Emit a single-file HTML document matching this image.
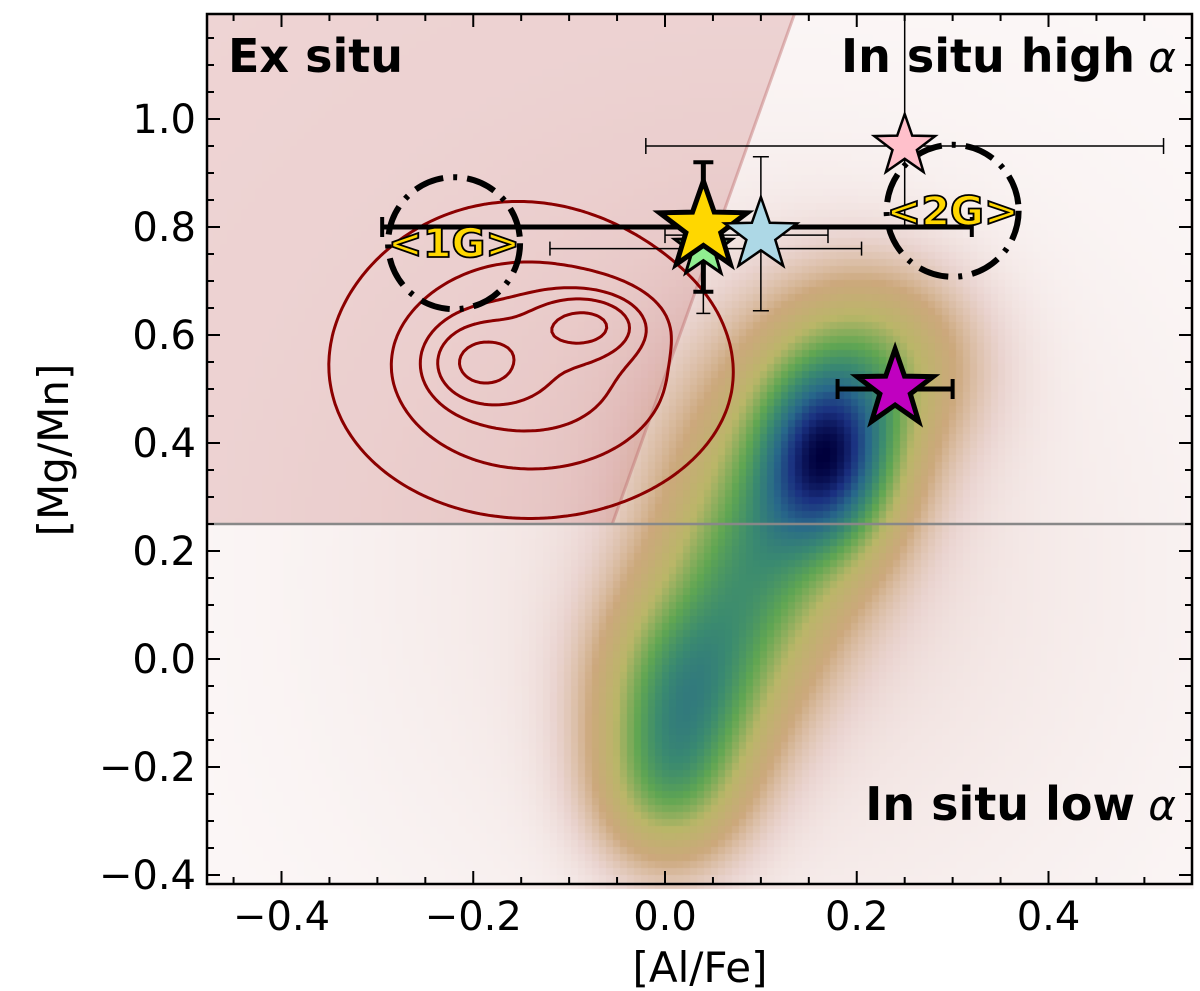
<!DOCTYPE html>
<html><head><meta charset="utf-8">
<style>
html,body{margin:0;padding:0;background:#fff;}
#wrap{position:relative;width:1200px;height:991px;overflow:hidden;font-family:"Liberation Sans",sans-serif;}
canvas,svg{position:absolute;left:0;top:0;}
</style></head>
<body>
<div id="wrap">
<canvas id="heat" width="1200" height="991"></canvas>
<svg id="svg" width="1200" height="991"><defs><clipPath id="clip"><rect x="207" y="14" width="985" height="870"/></clipPath></defs></svg>
</div>
<script>
// ---- data ----
const xTicks=[-0.4,-0.2,0.0,0.2,0.4];
const xTickLabels=["\u22120.4","\u22120.2","0.0","0.2","0.4"];
const yTicks=[-0.4,-0.2,0.0,0.2,0.4,0.6,0.8,1.0];
const yTickLabels=["\u22120.4","\u22120.2","0.0","0.2","0.4","0.6","0.8","1.0"];
const starNames=["gold","green","lightblue","pink","magenta"];
const starX=[0.04,0.04,0.10,0.25,0.24];
const starY=[0.80,0.76,0.785,0.95,0.50];
const starXLo=[-0.295,-0.12,0.0,-0.02,0.18];
const starXHi=[0.32,0.205,0.17,0.52,0.30];
const starYLo=[0.68,0.64,0.645,0.80,0.50];
const starYHi=[0.92,0.92,0.93,1.25,0.50];
const groupLabels=["<1G>","<2G>"];
const groupX=[-0.22,0.30];
const groupY=[0.77,0.83];
const exSituTop=[-0.055,0.25,0.135,1.194];
const hLineY=0.25;
const heatX=[0.17,0.02,0.09,0.22,0.0,0.12,0.1];
const heatY=[0.37,-0.07,0.15,0.55,-0.25,0.35,0.15];
const heatSX=[0.05,0.06,0.06,0.07,0.05,0.09,0.28];
const heatSY=[0.12,0.14,0.15,0.12,0.10,0.2,0.5];
const heatW=[1.0,0.78,0.5,0.45,0.4,0.3,0.08];
const exX=[-0.195,-0.08,-0.13,-0.16];
const exY=[0.55,0.62,0.52,0.6];
const exSX=[0.035,0.04,0.115,0.115];
const exSY=[0.05,0.04,0.14,0.19];
const exW=[0.6,0.7,0.6,0.3];
const contourLevels=[0.12,0.3,0.48,0.65,0.88];

// ---- axes ----
const L=207,R=1192,T=14,B=884;
const X0=665,XS=958.75,Y0=659,YS=540;
const xp=v=>X0+v*XS, yp=v=>Y0-v*YS;
const xv=p=>(p-X0)/XS, yv=p=>(Y0-p)/YS;
const NS="http://www.w3.org/2000/svg";
const svg=document.getElementById('svg');
function mk(tag,attrs,parent){const e=document.createElementNS(NS,tag);for(const k in attrs)e.setAttribute(k,attrs[k]);(parent||svg).appendChild(e);return e;}

// ---- heatmap ----
function dens(xs,ys,sx,sy,w,x,y){let s=0;for(let i=0;i<xs.length;i++){const dx=(x-xs[i])/sx[i],dy=(y-ys[i])/sy[i];s+=w[i]*Math.exp(-0.5*(dx*dx+dy*dy));}return s;}
const stops=[[0,[252,248,248]],[0.08,[234,212,208]],[0.2,[204,168,124]],[0.35,[186,182,104]],[0.5,[96,166,82]],[0.62,[58,138,112]],[0.75,[40,104,138]],[0.88,[26,48,128]],[1,[0,0,60]]];
function cmap(v){v=Math.max(0,Math.min(1,v));for(let i=1;i<stops.length;i++){if(v<=stops[i][0]){const a=stops[i-1],b=stops[i],t=(v-a[0])/(b[0]-a[0]);return a[1].map((c,j)=>Math.round(c+(b[1][j]-c)*t));}}return stops[stops.length-1][1];}
const ctx=document.getElementById('heat').getContext('2d');
let mx=0;const bs=7;
for(let px=L;px<R;px+=bs)for(let py=T;py<B;py+=bs)mx=Math.max(mx,dens(heatX,heatY,heatSX,heatSY,heatW,xv(px+bs/2),yv(py+bs/2)));
for(let px=L;px<R;px+=bs)for(let py=T;py<B;py+=bs){const v=dens(heatX,heatY,heatSX,heatSY,heatW,xv(px+bs/2),yv(py+bs/2))/mx;const c=cmap(v);ctx.fillStyle=`rgb(${c[0]},${c[1]},${c[2]})`;ctx.fillRect(px,py,bs,bs);}

// ---- ex situ region ----
const bx0=xp(exSituTop[0]),by0=yp(exSituTop[1]),bx1=xp(exSituTop[2]),by1=yp(exSituTop[3]);
const ex=mk('polygon',{points:`${L},${T} ${bx1},${T} ${bx0},${by0} ${L},${by0}`,fill:'rgba(200,120,120,0.28)'});

mk('line',{x1:bx1,y1:T,x2:bx0,y2:by0,stroke:'rgba(190,110,110,0.45)','stroke-width':3});

// ---- contours ----
const st=4,grid=[];
const cx0=260,cx1=800,cy0=100,cy1=560;
let emx=0;
for(let i=0;cx0+i*st<=cx1;i++){grid[i]=[];for(let j=0;cy0+j*st<=cy1;j++){const v=dens(exX,exY,exSX,exSY,exW,xv(cx0+i*st),yv(cy0+j*st));grid[i][j]=v;emx=Math.max(emx,v);}}
const cg=mk('g',{fill:'none',stroke:'#8b0000','stroke-width':3,'stroke-linecap':'round'});

contourLevels.forEach(lv=>{const th=lv*emx;let d='';
 for(let i=0;i<grid.length-1;i++)for(let j=0;j<grid[0].length-1;j++){
  const a=grid[i][j],b=grid[i+1][j],c=grid[i+1][j+1],e=grid[i][j+1];
  const x=cx0+i*st,y=cy0+j*st,pts=[];
  const f=(p,q)=>(th-p)/(q-p);
  if((a>th)!=(b>th))pts.push([x+st*f(a,b),y]);
  if((b>th)!=(c>th))pts.push([x+st,y+st*f(b,c)]);
  if((e>th)!=(c>th))pts.push([x+st*f(e,c),y+st]);
  if((a>th)!=(e>th))pts.push([x,y+st*f(a,e)]);
  for(let k=0;k+1<pts.length;k+=2)d+=`M${pts[k][0].toFixed(1)} ${pts[k][1].toFixed(1)}L${pts[k+1][0].toFixed(1)} ${pts[k+1][1].toFixed(1)}`;
 }
 const p=mk('path',{d},cg);
});

// ---- horizontal line ----
const hl=mk('line',{x1:L,x2:R,y1:yp(hLineY),y2:yp(hLineY),stroke:'#888','stroke-width':2.5});


// ---- group circles ----
groupLabels.forEach((lab,i)=>{
 const c=mk('circle',{cx:xp(groupX[i]),cy:yp(groupY[i]),r:66,fill:'none',stroke:'#000','stroke-width':6,'stroke-dasharray':'30 10 4 10'});
 
});

// ---- error bars & stars ----
const styles={gold:{fill:'#ffd700',r:46,lw:5,ew:5,cap:10},green:{fill:'#90ee90',r:30,lw:3,ew:1.5,cap:7},lightblue:{fill:'#add8e6',r:38,lw:2.5,ew:1.5,cap:8},pink:{fill:'#ffc0cb',r:32,lw:2.5,ew:1.5,cap:8},magenta:{fill:'#c000c0',r:40,lw:5,ew:5,cap:10}};
function starPath(cx,cy,R){const r=R*0.4;let d='';for(let k=0;k<10;k++){const ang=-Math.PI/2+k*Math.PI/5,rr=k%2?r:R;d+=(k?'L':'M')+(cx+rr*Math.cos(ang)).toFixed(1)+' '+(cy+rr*Math.sin(ang)).toFixed(1);}return d+'Z';}
const order=[3,1,0,2,4];
const clipG=mk('g',{'clip-path':'url(#clip)'});
order.forEach(i=>{const s=styles[starNames[i]];const g=mk('g',{},clipG);
 
 const X=xp(starX[i]),Y=yp(starY[i]);
 const cw=s.ew>2?4:1.5;
 mk('line',{x1:xp(starXLo[i]),x2:xp(starXHi[i]),y1:Y,y2:Y,stroke:'#000','stroke-width':s.ew},g);
 mk('line',{x1:xp(starXLo[i]),x2:xp(starXLo[i]),y1:Y-s.cap,y2:Y+s.cap,stroke:'#000','stroke-width':cw},g);
 mk('line',{x1:xp(starXHi[i]),x2:xp(starXHi[i]),y1:Y-s.cap,y2:Y+s.cap,stroke:'#000','stroke-width':cw},g);
 if(starYHi[i]!=starYLo[i]){
  mk('line',{x1:X,x2:X,y1:yp(starYHi[i]),y2:yp(starYLo[i]),stroke:'#000','stroke-width':s.ew},g);
  mk('line',{x1:X-s.cap,x2:X+s.cap,y1:yp(starYHi[i]),y2:yp(starYHi[i]),stroke:'#000','stroke-width':cw},g);
  mk('line',{x1:X-s.cap,x2:X+s.cap,y1:yp(starYLo[i]),y2:yp(starYLo[i]),stroke:'#000','stroke-width':cw},g);
 }
});
order.forEach(i=>{const s=styles[starNames[i]];
 const p=mk('path',{d:starPath(xp(starX[i]),yp(starY[i]),s.r),fill:s.fill,stroke:'#000','stroke-width':s.lw,'stroke-linejoin':'miter'});
 
});

// ---- group labels ----
groupLabels.forEach((lab,i)=>{
 const t=mk('text',{x:xp(groupX[i]),y:yp(groupY[i])+14,'text-anchor':'middle','font-size':40,'font-weight':'bold',fill:'#ffd700',stroke:'#000','stroke-width':1.8,'font-family':'DejaVu Sans, sans-serif',textLength:132,lengthAdjust:'spacingAndGlyphs'});
 t.textContent=lab;
});

// ---- region labels ----
function regionLabel(txt,alpha,x,y,anchor,name){
 const t=mk('text',{x,y,'text-anchor':anchor,'font-size':46,'font-weight':'bold',fill:'#000','font-family':'DejaVu Sans, sans-serif'});
 
 const s1=mk('tspan',{},t);s1.textContent=txt;
 if(alpha){const s2=mk('tspan',{'font-weight':'normal','font-style':'italic','font-size':42},t);s2.textContent='\u00a0'+alpha;}
}
regionLabel('Ex situ','',228,72,'start','ex-situ-label');
regionLabel('In situ high','\u03b1',1176,72,'end','in-situ-high-alpha-label');
regionLabel('In situ low','\u03b1',1176,820,'end','in-situ-low-alpha-label');

// ---- frame & ticks ----
const fr=mk('rect',{x:L,y:T,width:R-L,height:B-T,fill:'none',stroke:'#000','stroke-width':2.5});

const tg=mk('g',{stroke:'#000'});
for(let k=-10;k<=11;k++){const v=k*0.05,p=xp(v);if(p<L||p>R)continue;const maj=k%4==0,len=maj?13:7;
 mk('line',{x1:p,x2:p,y1:B,y2:B-len,'stroke-width':2},tg);mk('line',{x1:p,x2:p,y1:T,y2:T+len,'stroke-width':2},tg);}
for(let k=-9;k<=24;k++){const v=k*0.05,p=yp(v);if(p<T||p>B)continue;const maj=k%4==0,len=maj?13:7;
 mk('line',{x1:L,x2:L+len,y1:p,y2:p,'stroke-width':2},tg);mk('line',{x1:R,x2:R-len,y1:p,y2:p,'stroke-width':2},tg);}
xTicks.forEach((v,i)=>{const t=mk('text',{x:xp(v),y:930,'text-anchor':'middle','font-size':40,fill:'#000','font-family':'DejaVu Sans, sans-serif'});t.textContent=xTickLabels[i];});
yTicks.forEach((v,i)=>{const t=mk('text',{x:196,y:yp(v)+14,'text-anchor':'end','font-size':40,fill:'#000','font-family':'DejaVu Sans, sans-serif'});t.textContent=yTickLabels[i];});
const xt=mk('text',{x:700,y:982,'text-anchor':'middle','font-size':42,fill:'#000','font-family':'DejaVu Sans, sans-serif'});xt.textContent='[Al/Fe]';
const yt=mk('text',{x:0,y:0,'text-anchor':'middle','font-size':42,fill:'#000','font-family':'DejaVu Sans, sans-serif',transform:'translate(68,450) rotate(-90)'});yt.textContent='[Mg/Mn]';
</script>
</body></html>
